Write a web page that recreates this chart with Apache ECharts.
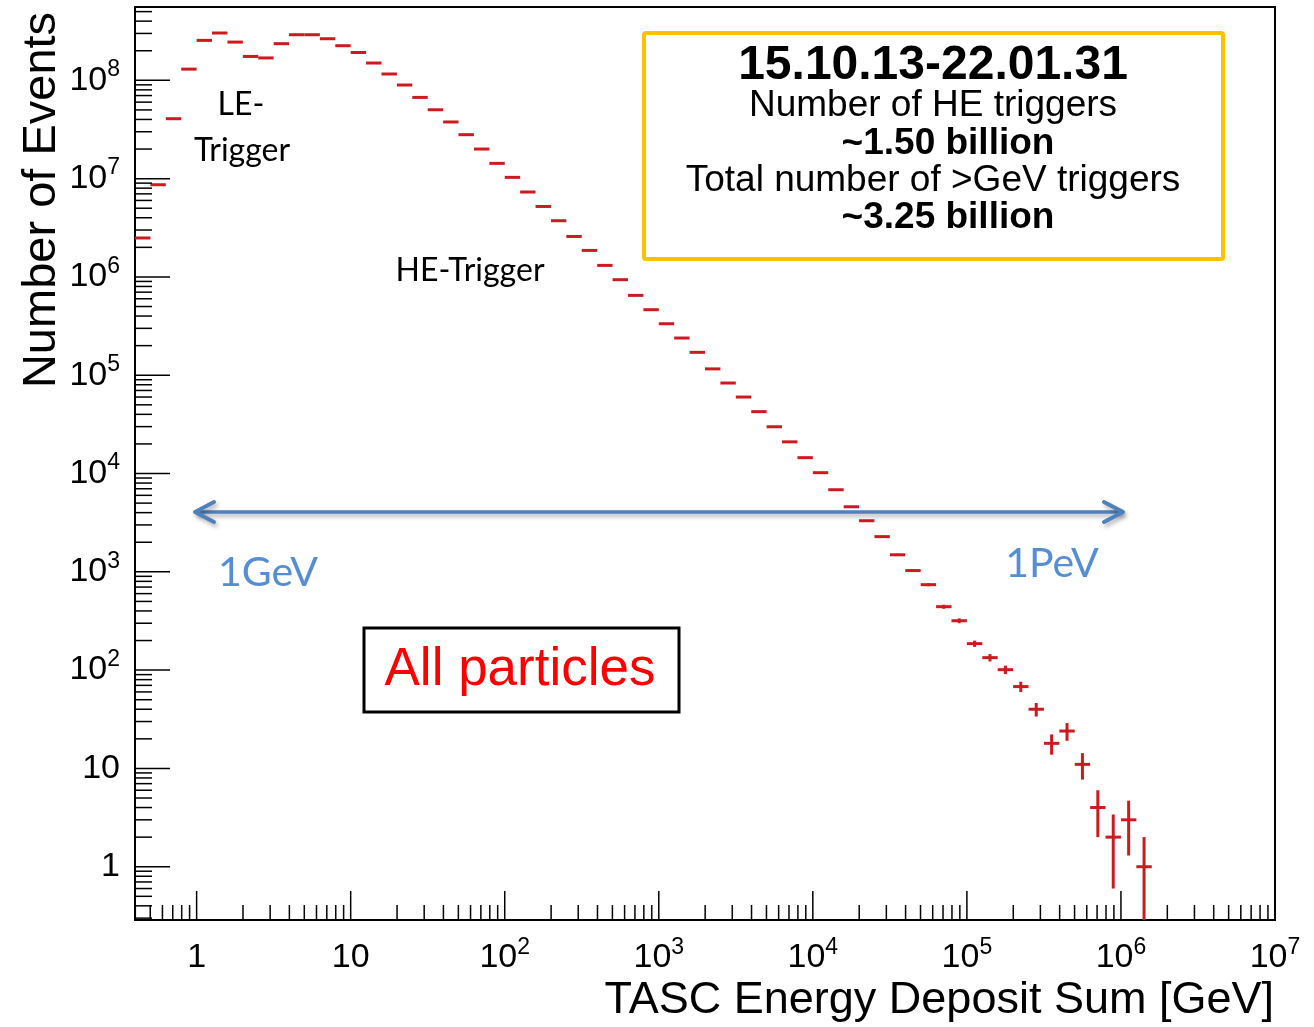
<!DOCTYPE html>
<html>
<head>
<meta charset="utf-8">
<script src="https://cdn.jsdelivr.net/npm/echarts@6/dist/echarts.min.js"></script>
<style>
html,body{margin:0;padding:0;background:#fff;}
#c{width:1314px;height:1027px;}
</style>
</head>
<body>
<div id="c"></div>
<script>
// ---- data (bin centres in log10(E/GeV), counts, statistical errors) ----
const binLogE = [-0.35,-0.25,-0.15,-0.05,
  0.05,0.15,0.25,0.35,0.45,0.55,0.65,0.75,0.85,0.95,
  1.05,1.15,1.25,1.35,1.45,1.55,1.65,1.75,1.85,1.95,
  2.05,2.15,2.25,2.35,2.45,2.55,2.65,2.75,2.85,2.95,
  3.05,3.15,3.25,3.35,3.45,3.55,3.65,3.75,3.85,3.95,
  4.05,4.15,4.25,4.35,4.45,4.55,4.65,4.75,4.85,4.95,
  5.05,5.15,5.25,5.35,5.45,5.55,5.65,5.75,5.85,5.95,
  6.05,6.15];
const counts = [2490000,8670000,40700000,130000000,
  255000000,303000000,245000000,175000000,169000000,236000000,291000000,291000000,265000000,225000000,
  192000000,150000000,116000000,89600000,67000000,50200000,37700000,28000000,20000000,14300000,
  10300000,7310000,5210000,3730000,2580000,1860000,1310000,937000,649000,464000,
  334000,239000,171000,116000,83300,60000,42600,29900,21000,14500,
  10200,6840,4590,3310,2280,1490,1030,740,442,318,
  186,134,101,68,40,18,24,11,4,2,
  3,1];
const errors = [1578,2944,6380,11402,
  15969,17407,15652,13229,13000,15362,17059,17059,16279,15000,
  13856,12247,10770,9466,8185,7085,6140,5292,4472,3782,
  3209,2704,2283,1931,1606,1364,1145,968,806,681,
  578,489,414,341,289,245,206,173,145,120,
  101,83,68,58,48,39,32,27,21,18,
  13.6,11.6,10,8.2,6.3,4.2,4.9,3.3,2,1.4,
  1.7,1];
const xTickDecades = [0,1,2,3,4,5,6,7];
const yTickDecades = [0,1,2,3,4,5,6,7,8];

// ---- axis ranges ----
const X_MIN = Math.pow(10,-0.4), X_MAX = 1e7;
const Y_MIN = Math.pow(10,-0.542), Y_MAX = Math.pow(10,8.746);
const BIN_HALF = 0.05;

const FONT = "'Liberation Sans', Arial, Helvetica, sans-serif";
const CAL = "Lato, 'Open Sans', sans-serif";
const BAR = '#cc1a1f';

function isDecade(v){ const l=Math.log10(v); return Math.abs(l-Math.round(l))<1e-6; }
function fmt(decades){
  return function(v){
    if(!isDecade(v)) return '';
    const l=Math.round(Math.log10(v));
    if(decades.indexOf(l)<0) return '';
    if(l===0) return '{base|1}';
    if(l===1) return '{base|10}';
    return '{base|10}{sup|'+l+'}';
  };
}
const rich = {
  base:{fontSize:34,lineHeight:44,fontFamily:FONT,color:'#000'},
  sup:{fontSize:23,lineHeight:22,verticalAlign:'top',fontFamily:FONT,color:'#000'}
};

const chart = echarts.init(document.getElementById('c'), null, {renderer:'canvas'});
chart.setOption({
  backgroundColor:'#fff',
  animation:false,
  grid:{left:135,right:39,top:7,bottom:107,show:true,borderColor:'#000',borderWidth:2,backgroundColor:'transparent'},
  xAxis:{type:'log',logBase:10,min:X_MIN,max:X_MAX,splitNumber:8,
    axisLine:{show:false},axisTick:{show:false},splitLine:{show:false},
    axisLabel:{show:true,interval:0,margin:16,formatter:fmt(xTickDecades),rich:rich,showMinLabel:true,showMaxLabel:true}},
  yAxis:{type:'log',logBase:10,min:Y_MIN,max:Y_MAX,splitNumber:9,
    axisLine:{show:false},axisTick:{show:false},splitLine:{show:false},
    axisLabel:{show:true,interval:0,margin:15,formatter:fmt(yTickDecades),rich:rich,showMinLabel:true,showMaxLabel:true}},
  series:[
    {
      type:'custom',coordinateSystem:'cartesian2d',clip:true,silent:true,z:3,
      data: binLogE.map((c,i)=>[Math.pow(10,c),counts[i],errors[i],c]),
      encode:{x:0,y:1},
      renderItem:function(params,api){
        const c=api.value(3), n=api.value(1), e=api.value(2);
        const l=api.coord([Math.pow(10,c-BIN_HALF),n]);
        const r=api.coord([Math.pow(10,c+BIN_HALF),n]);
        const t=api.coord([Math.pow(10,c),Math.min(n+e,Y_MAX)]);
        const b=api.coord([Math.pow(10,c),Math.max(n-e,Y_MIN)]);
        return {type:'group',children:[
          {type:'line',shape:{x1:l[0],y1:l[1],x2:r[0],y2:r[1]},style:{stroke:BAR,lineWidth:3}},
          {type:'line',shape:{x1:t[0],y1:t[1],x2:b[0],y2:b[1]},style:{stroke:BAR,lineWidth:3}}
        ]};
      }
    },
    {
      type:'custom',coordinateSystem:'cartesian2d',silent:true,z:4,
      data:[[1,1]],
      renderItem:function(params,api){
        const ch=[];
        const yb=api.coord([1,Y_MIN])[1];
        const xl=api.coord([X_MIN,1])[0];
        for(let d=-1; d<=7; d++){
          for(let m=1;m<=9;m++){
            const v=m*Math.pow(10,d);
            if(v<X_MIN*1.0001||v>X_MAX*0.9999) continue;
            const x=api.coord([v,1])[0];
            const len=(m===1)?29:15;
            ch.push({type:'line',shape:{x1:x,y1:yb,x2:x,y2:yb-len},style:{stroke:'#000',lineWidth:1.5}});
          }
        }
        for(let d=-1; d<=9; d++){
          for(let m=1;m<=9;m++){
            const v=m*Math.pow(10,d);
            if(v<Y_MIN*1.0001||v>Y_MAX*0.9999) continue;
            const y=api.coord([1,v])[1];
            const len=(m===1)?35:17;
            ch.push({type:'line',shape:{x1:xl,y1:y,x2:xl+len,y2:y},style:{stroke:'#000',lineWidth:1.5}});
          }
        }
        return {type:'group',children:ch};
      }
    }
  ],
  graphic:{elements:[
    // axis titles
    {type:'text',x:42,y:200,rotation:Math.PI/2,z:10,
      style:{text:'Number of Events',font:'47px '+FONT,fill:'#000',align:'center',verticalAlign:'middle',textAlign:'center',textVerticalAlign:'middle'}},
    {type:'text',x:1274,y:1001,z:10,
      style:{text:'TASC Energy Deposit Sum [GeV]',font:'45px '+FONT,fill:'#000',align:'right',verticalAlign:'middle',textAlign:'right',textVerticalAlign:'middle'}},
    // trigger labels
    {type:'text',x:241,y:105,z:10,style:{text:'LE-',font:'32px '+CAL,fill:'#000',align:'center',verticalAlign:'middle',textAlign:'center',textVerticalAlign:'middle'}},
    {type:'text',x:242,y:151,z:10,style:{text:'Trigger',font:'32px '+CAL,fill:'#000',align:'center',verticalAlign:'middle',textAlign:'center',textVerticalAlign:'middle'}},
    {type:'text',x:470,y:271,z:10,style:{text:'HE-Trigger',font:'32px '+CAL,fill:'#000',align:'center',verticalAlign:'middle',textAlign:'center',textVerticalAlign:'middle'}},
    // info box
    {type:'rect',z:10,shape:{x:644,y:33,width:579,height:226,r:2},style:{fill:'#fff',stroke:'#FFC000',lineWidth:4,lineJoin:'round'}},
    {type:'text',x:933,y:66,z:11,style:{text:'15.10.13-22.01.31',font:'bold 48px '+FONT,fill:'#000',align:'center',verticalAlign:'middle',textAlign:'center',textVerticalAlign:'middle'}},
    {type:'text',x:933,y:106,z:11,style:{text:'Number of HE triggers',font:'37px '+FONT,fill:'#000',align:'center',verticalAlign:'middle',textAlign:'center',textVerticalAlign:'middle'}},
    {type:'text',x:948,y:144,z:11,style:{text:'~1.50 billion',font:'bold 37px '+FONT,fill:'#000',align:'center',verticalAlign:'middle',textAlign:'center',textVerticalAlign:'middle'}},
    {type:'text',x:933,y:181,z:11,style:{text:'Total number of >GeV triggers',font:'37px '+FONT,fill:'#000',align:'center',verticalAlign:'middle',textAlign:'center',textVerticalAlign:'middle'}},
    {type:'text',x:948,y:218,z:11,style:{text:'~3.25 billion',font:'bold 37px '+FONT,fill:'#000',align:'center',verticalAlign:'middle',textAlign:'center',textVerticalAlign:'middle'}},
    // energy range arrow
    {type:'polyline',z:9,shape:{points:[[196,512],[1122,512]]},style:{stroke:'#4f81bd',lineWidth:3.5,fill:null,shadowBlur:4,shadowOffsetX:2,shadowOffsetY:3,shadowColor:'rgba(0,0,0,0.3)'}},
    {type:'polyline',z:9,shape:{points:[[214,502],[195,512],[214,522]]},style:{stroke:'#4f81bd',lineWidth:4,lineJoin:'round',lineCap:'round',fill:null,shadowBlur:4,shadowOffsetX:2,shadowOffsetY:3,shadowColor:'rgba(0,0,0,0.3)'}},
    {type:'polyline',z:9,shape:{points:[[1104,502],[1123,512],[1104,522]]},style:{stroke:'#4f81bd',lineWidth:4,lineJoin:'round',lineCap:'round',fill:null,shadowBlur:4,shadowOffsetX:2,shadowOffsetY:3,shadowColor:'rgba(0,0,0,0.3)'}},
    {type:'text',x:268,y:573,z:10,style:{text:'1GeV',font:'41px '+CAL,fill:'#558ed5',align:'center',verticalAlign:'middle',textAlign:'center',textVerticalAlign:'middle'}},
    {type:'text',x:1052,y:564,z:10,style:{text:'1PeV',font:'41px '+CAL,fill:'#558ed5',align:'center',verticalAlign:'middle',textAlign:'center',textVerticalAlign:'middle'}},
    // all particles box
    {type:'rect',z:10,shape:{x:364,y:628,width:315,height:84},style:{fill:'#fff',stroke:'#000',lineWidth:3}},
    {type:'text',x:520,y:670,z:11,style:{text:'All particles',font:'53px '+FONT,fill:'#ff0000',align:'center',verticalAlign:'middle',textAlign:'center',textVerticalAlign:'middle'}}
  ]}
});
</script>
</body>
</html>
